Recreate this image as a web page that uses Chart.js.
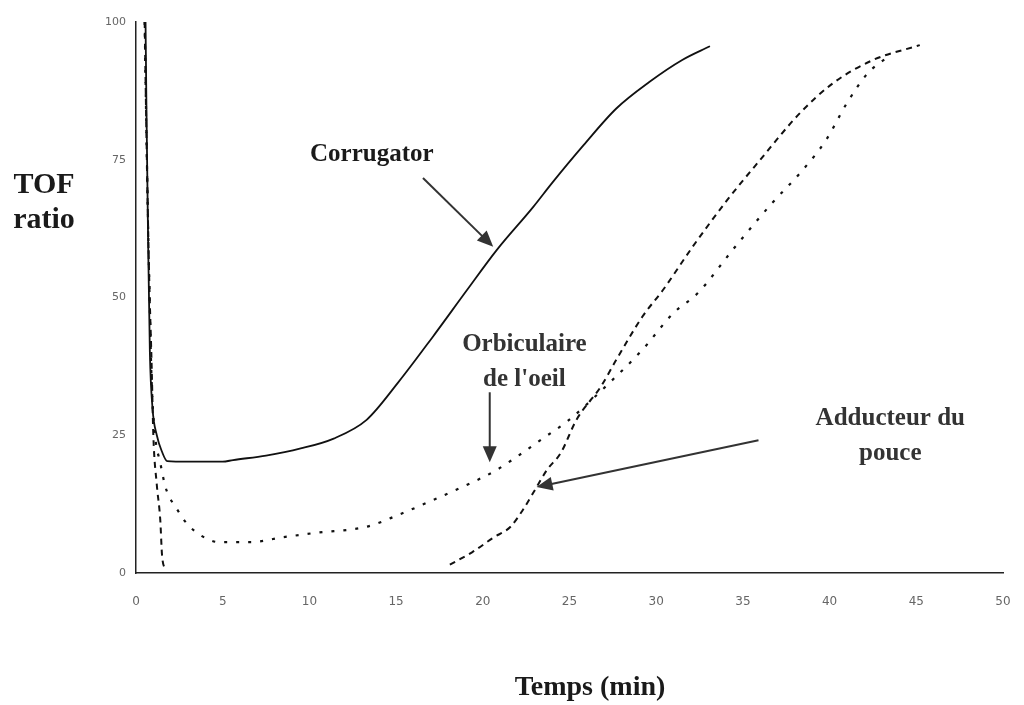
<!DOCTYPE html>
<html>
<head>
<meta charset="utf-8">
<script src="https://cdn.jsdelivr.net/npm/chart.js@4.4.0/dist/chart.umd.min.js"></script>
<style>
    html, body { margin: 0; padding: 0; background: #ffffff; }
</style>
</head>
<body>
<canvas id="chart_tof" width="1024" height="705"></canvas>
<script>
// Data (x = temps en min, y = TOF ratio en %)
const corrugator_x = [0.55, 0.6, 0.7, 0.8, 0.95, 1.2, 1.5, 1.8, 3, 5, 5.6, 7.5, 9.5, 11.4, 13.3, 15.1, 17.1, 19.1, 20.8, 22.9, 24, 25.8, 27.7, 29.6, 31.5, 33.1]
const corrugator_y = [100, 85, 60, 40, 30, 25, 22, 20.3, 20.2, 20.2, 20.5, 21.3, 22.6, 24.4, 27.8, 34.5, 42.8, 51.4, 58.6, 66.4, 70.8, 77.6, 84.3, 89.1, 93.1, 95.6]

const orbiculaire_x = [0.5, 0.6, 0.75, 0.9, 1.1, 1.4, 1.7, 2.4, 2.9, 3.7, 4.8, 6.6, 8.5, 10.4, 13.3, 15.1, 17.1, 19.3, 20.8, 22.1, 23.5, 24.9, 27.3, 29.2, 31.0, 32.4, 34.4, 36.7, 38.3, 39.8, 41.0, 42.2, 43.5]
const orbiculaire_y = [100, 80, 55, 35, 25, 20, 15.6, 11.4, 9.1, 6.9, 5.6, 5.6, 6.5, 7.3, 8.4, 10.5, 13.2, 16.3, 18.7, 21.4, 24.5, 27.6, 34.5, 40.5, 47.2, 50.8, 58.6, 67.2, 72.6, 78.6, 85.3, 90.7, 94]

// null = no recording between the two parts
const adducteur_x = [0.5, 0.6, 0.75, 0.9, 1.0, 1.2, 1.4, 1.5, 1.7, 10, 18.1, 19.4, 20.6, 21.6, 22.3, 22.9, 23.7, 24.5, 25.4, 26.8, 27.7, 29.2, 30.4, 32.1, 34.1, 36.0, 38.3, 40.2, 42.5, 45.2]
const adducteur_y = [100, 80, 55, 38, 25, 16, 9.6, 3.3, 0.5, null, 1.5, 3.8, 6.4, 8.4, 11.4, 14.5, 18.7, 21.8, 27.8, 33.8, 38.7, 46.5, 51.4, 59.2, 67.7, 75, 83.5, 88.9, 93.1, 95.8]

const x_ticks = [0, 5, 10, 15, 20, 25, 30, 35, 40, 45, 50]
const y_ticks = [0, 25, 50, 75, 100]

const toPoints = (xs, ys) => xs.map((x, i) => ({ x: x, y: ys[i] }))

const serif = '"Liberation Serif", "DejaVu Serif", serif'

// labels + arrows, placed in data units
const notes = [
    { lines: ['Corrugator'], x: 13.6, y: 75.9, from: [16.55, 71.7], to: [20.6, 59.2] },
    { lines: ['Orbiculaire', "de l'oeil"], x: 22.4, y: 41.4, from: [20.4, 32.8], to: [20.4, 20.1] },
    { lines: ['Adducteur du', 'pouce'], x: 43.5, y: 28.1, from: [35.9, 24.1], to: [23.1, 15.6] }
]

const drawArrow = (ctx, x1, y1, x2, y2) => {
    const a = Math.atan2(y2 - y1, x2 - x1)
    const len = 16, half = 7
    ctx.strokeStyle = '#333'
    ctx.fillStyle = '#333'
    ctx.lineWidth = 2
    ctx.beginPath()
    ctx.moveTo(x1, y1)
    ctx.lineTo(x2 - Math.cos(a) * len * 0.8, y2 - Math.sin(a) * len * 0.8)
    ctx.stroke()
    ctx.beginPath()
    ctx.moveTo(x2, y2)
    ctx.lineTo(x2 - Math.cos(a) * len - Math.sin(a) * half, y2 - Math.sin(a) * len + Math.cos(a) * half)
    ctx.lineTo(x2 - Math.cos(a) * len + Math.sin(a) * half, y2 - Math.sin(a) * len - Math.cos(a) * half)
    ctx.closePath()
    ctx.fill()
}

const notesPlugin = {
    id: 'notes',
    afterDraw(chart) {
        const { ctx, chartArea, scales: { x, y } } = chart
        ctx.save()
        ctx.textAlign = 'center'
        ctx.textBaseline = 'middle'
        ctx.fillStyle = '#1a1a1a'
        ctx.font = 'bold 25px ' + serif
        notes.forEach(n => {
            const px = x.getPixelForValue(n.x)
            const py = y.getPixelForValue(n.y)
            n.lines.forEach((t, i) => ctx.fillText(t, px, py + i * 35))
            drawArrow(ctx, x.getPixelForValue(n.from[0]), y.getPixelForValue(n.from[1]),
                x.getPixelForValue(n.to[0]), y.getPixelForValue(n.to[1]))
        })
        // axis titles
        ctx.fillStyle = '#1a1a1a'
        ctx.font = 'bold 30px ' + serif
        ctx.fillText('TOF', chartArea.left - 92, 185)
        ctx.fillText('ratio', chartArea.left - 92, 220)
        ctx.font = 'bold 28px ' + serif
        ctx.fillText('Temps (min)', 590, 688)
        ctx.restore()
    }
}

new Chart(document.getElementById('chart_tof'), {
    type: 'line',
    data: {
        datasets: [
            {
                label: 'Corrugator',
                data: toPoints(corrugator_x, corrugator_y),
                borderColor: '#111',
                borderWidth: 1.8
            },
            {
                label: "Orbiculaire de l'oeil",
                data: toPoints(orbiculaire_x, orbiculaire_y),
                borderColor: '#111',
                borderWidth: 2.2,
                borderDash: [3, 9]
            },
            {
                label: 'Adducteur du pouce',
                data: toPoints(adducteur_x, adducteur_y),
                borderColor: '#111',
                borderWidth: 2,
                borderDash: [6, 5],
                spanGaps: false
            }
        ]
    },
    options: {
        responsive: false,
        animation: false,
        elements: {
            point: { radius: 0 },
            line: { cubicInterpolationMode: 'monotone', fill: false }
        },
        layout: {
            padding: { top: 22, right: 21, left: 0, bottom: 0 }
        },
        plugins: {
            legend: { display: false },
            tooltip: { enabled: false }
        },
        scales: {
            x: {
                type: 'linear',
                min: 0,
                max: 50,
                afterBuildTicks: s => { s.ticks = x_ticks.map(v => ({ value: v })) },
                afterFit: s => { s.height = 132; s.paddingLeft = 0; s.paddingRight = 0 },
                ticks: {
                    padding: 22,
                    color: '#666',
                    font: { family: 'DejaVu Sans', size: 12 }
                },
                grid: { drawOnChartArea: false, drawTicks: false },
                border: { color: '#222', width: 1.5 }
            },
            y: {
                type: 'linear',
                min: 0,
                max: 100,
                afterBuildTicks: s => { s.ticks = y_ticks.map(v => ({ value: v })) },
                afterFit: s => { s.width = 136; s.paddingTop = 0; s.paddingBottom = 0 },
                ticks: {
                    padding: 10,
                    color: '#666',
                    font: { family: 'DejaVu Sans', size: 11 }
                },
                grid: { drawOnChartArea: false, drawTicks: false },
                border: { color: '#222', width: 1.5 }
            }
        }
    },
    plugins: [notesPlugin]
});
</script>
</body>
</html>
